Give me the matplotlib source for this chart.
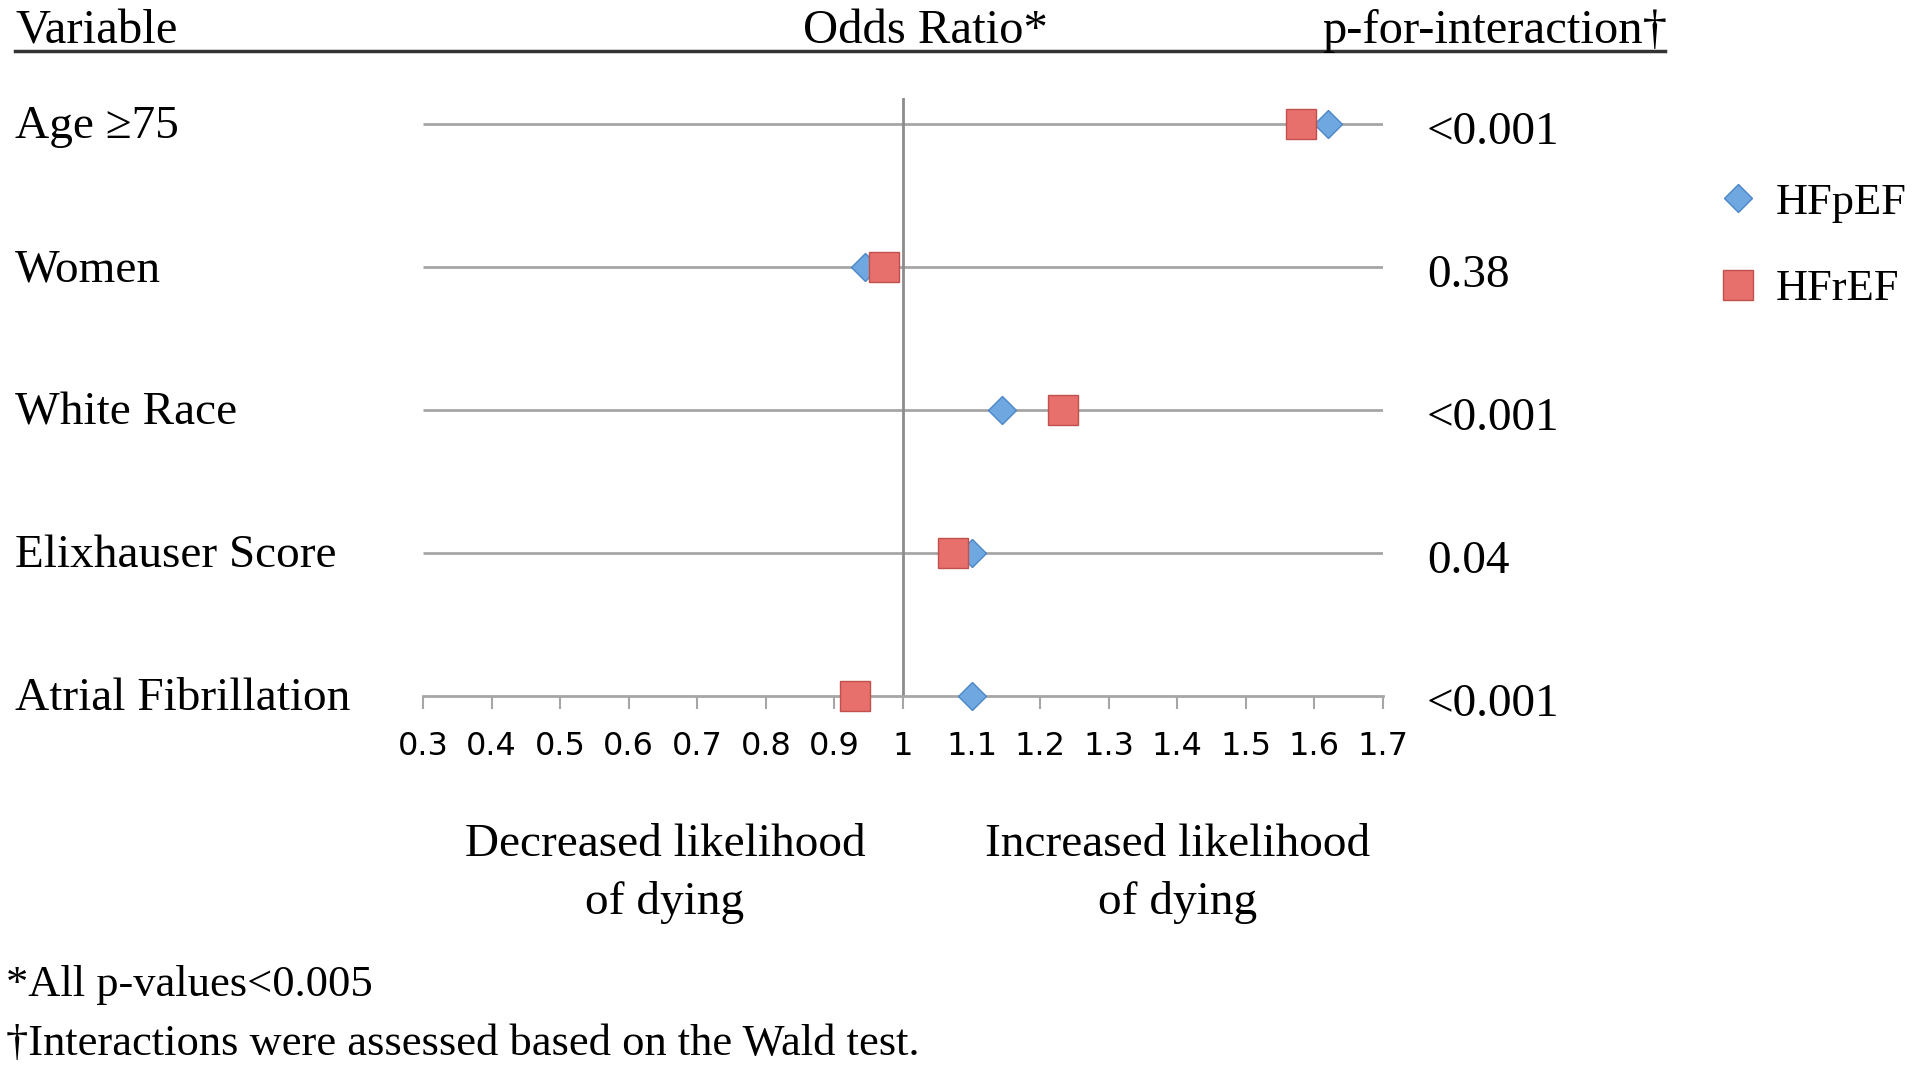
import matplotlib
matplotlib.use("Agg")
import matplotlib.pyplot as plt
from matplotlib.lines import Line2D
import numpy as np

# data
variables = ["Age \u226575", "Women", "White Race", "Elixhauser Score", "Atrial Fibrillation"]
or_hfpef = [1.62, 0.945, 1.145, 1.10, 1.10]
or_hfref = [1.58, 0.972, 1.234, 1.073, 0.930]
p_interaction = ["<0.001", "0.38", "<0.001", "0.04", "<0.001"]
xticks = [0.3, 0.4, 0.5, 0.6, 0.7, 0.8, 0.9, 1, 1.1, 1.2, 1.3, 1.4, 1.5, 1.6, 1.7]
xtick_labels = ["0.3", "0.4", "0.5", "0.6", "0.7", "0.8", "0.9", "1",
                "1.1", "1.2", "1.3", "1.4", "1.5", "1.6", "1.7"]

W, H = 1920, 1075
SERIF = "Liberation Serif"
BLUE_FACE, BLUE_EDGE = "#6FA8E0", "#4A86C8"
RED_FACE, RED_EDGE = "#E8706C", "#C0504D"
GRID = "#A6A6A6"


def fx(px):
    return px / W


def fy(py):
    return 1 - py / H


fig = plt.figure(figsize=(W / 100, H / 100), dpi=100)
ax = fig.add_axes([fx(423), fy(696), fx(1383) - fx(423), fy(98) - fy(696)])

rows = np.arange(len(variables))
ax.set_xlim(0.3, 1.7)
ax.set_ylim(len(variables) - 1, -0.18)

# row lines
ax.hlines(rows[:-1], 0.3, 1.7, color=GRID, lw=2, zorder=1)
ax.axvline(1, color="#8C8C8C", lw=2, zorder=1)

ax.plot(or_hfpef, rows, ls="none", marker="D", ms=14, mfc=BLUE_FACE, mec=BLUE_EDGE,
        mew=1, clip_on=False, zorder=3, label="HFpEF")
ax.plot(or_hfref, rows, ls="none", marker="s", ms=22, mfc=RED_FACE, mec=RED_EDGE,
        mew=1, clip_on=False, zorder=4, label="HFrEF")

for s in ["top", "left", "right"]:
    ax.spines[s].set_visible(False)
ax.spines["bottom"].set_color(GRID)
ax.spines["bottom"].set_linewidth(2)
ax.set_yticks([])
ax.set_xticks(xticks)
ax.set_xticklabels(xtick_labels, fontfamily="DejaVu Sans", fontsize=23)
ax.tick_params(axis="x", direction="out", length=9, width=1.5, color=GRID, pad=16)

# headers
fig.text(fx(15), fy(43), "Variable", fontfamily=SERIF, fontsize=35, va="baseline")
fig.text(fx(803), fy(43), "Odds Ratio*", fontfamily=SERIF, fontsize=35, va="baseline")
fig.text(fx(1322), fy(43), "p-for-interaction\u2020", fontfamily=SERIF, fontsize=35,
         va="baseline")
fig.add_artist(Line2D([fx(15), fx(1665)], [fy(51), fy(51)], color="#333333", lw=2.5))

# row labels and p-values
for i, (v, p) in enumerate(zip(variables, p_interaction)):
    ypix = 124 + i * 143
    fig.text(fx(15), fy(ypix + 3), v, fontfamily=SERIF, fontsize=34, va="center")
    fig.text(fx(1427), fy(ypix + 9), p, fontfamily=SERIF, fontsize=34, va="center")

# direction labels
fig.text(fx(665), fy(874), "Decreased likelihood\nof dying", fontfamily=SERIF, fontsize=34,
         ha="center", va="center", linespacing=1.45)
fig.text(fx(1178), fy(874), "Increased likelihood\nof dying", fontfamily=SERIF, fontsize=34,
         ha="center", va="center", linespacing=1.45)

# footnotes
fig.text(fx(6), fy(985), "*All p-values<0.005", fontfamily=SERIF, fontsize=32, va="center")
fig.text(fx(6), fy(1044), "\u2020Interactions were assessed based on the Wald test.",
         fontfamily=SERIF, fontsize=32, va="center")

fig.legend(loc="center left", bbox_to_anchor=(fx(1676), fy(246)), frameon=False,
           prop={"family": SERIF, "size": 32}, handletextpad=0.35, labelspacing=1.05,
           handlelength=1.0)

fig.savefig("out.png", dpi=100)
